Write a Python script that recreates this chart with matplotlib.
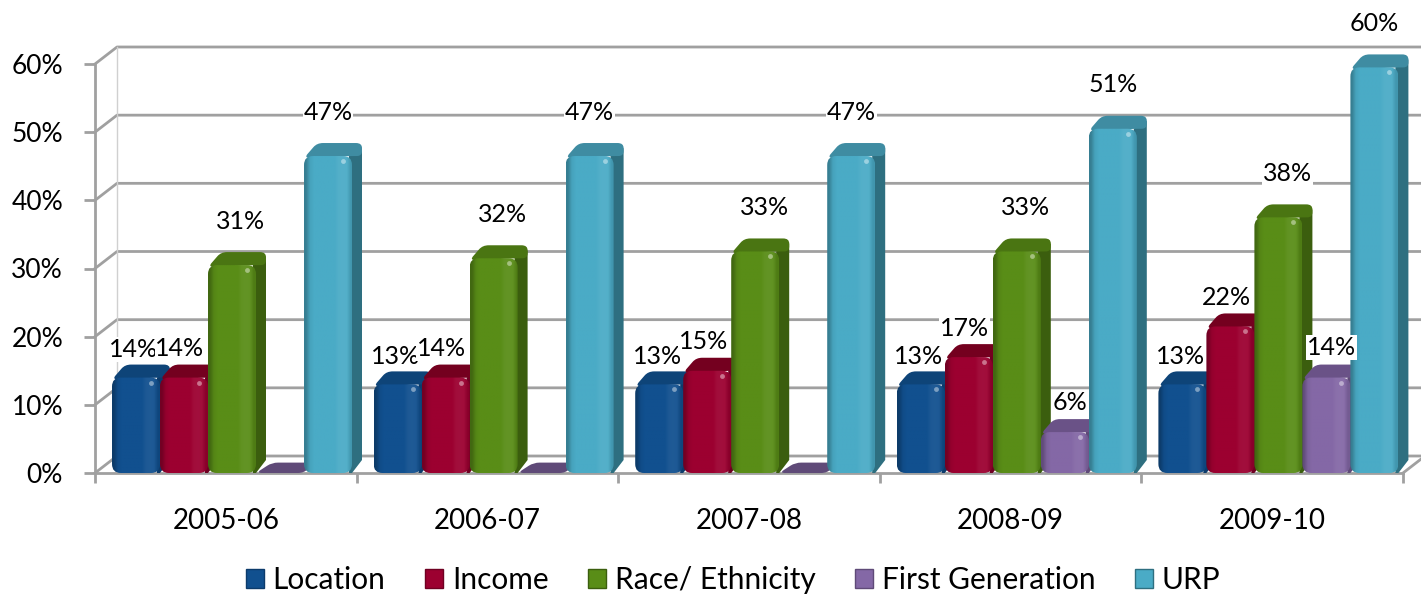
import matplotlib
matplotlib.use("Agg")
import matplotlib.pyplot as plt
import numpy as np
from matplotlib.patches import Patch, PathPatch, Polygon
from matplotlib.path import Path as MplPath
from matplotlib.colors import to_rgb

plt.rcParams["font.family"] = ["Lato", "DejaVu Sans"]

years = ["2005-06", "2006-07", "2007-08", "2008-09", "2009-10"]
series_names = ["Location", "Income", "Race/ Ethnicity", "First Generation", "URP"]
location = [14.0, 13.0, 13.0, 13.0, 13.0]
income = [14.0, 14.0, 15.0, 17.0, 21.5]
race = [30.5, 31.5, 32.5, 32.5, 37.5]
first_gen = [0.0, 0.0, 0.0, 6.0, 14.0]
urp = [46.5, 46.5, 46.5, 50.5, 59.5]
location_labels = ["14%", "13%", "13%", "13%", "13%"]
income_labels = ["14%", "14%", "15%", "17%", "22%"]
race_labels = ["31%", "32%", "33%", "33%", "38%"]
first_gen_labels = ["", "", "", "6%", "14%"]
urp_labels = ["47%", "47%", "47%", "51%", "60%"]
yticks = [0, 10, 20, 30, 40, 50, 60]

front_colors = ["#11508f", "#9c0030", "#598d17", "#8468a6", "#4aabc6"]
side_colors = ["#0c3b6b", "#6f0022", "#3b5e0e", "#5f4a78", "#2e6f80"]
top_colors = ["#0e4478", "#74001f", "#4a7512", "#6a5287", "#3f8ca2"]
# label shift from bar centre / bar top, in pixels
label_dx = [-2, -4, 9, 5, 0]
label_dy = [28, 29, 44, 30, 44]

W, H = 1421, 598
X0, X1 = 95, 1403
Y0, Y60 = 473, 64
PX = 5 / (X1 - X0)           # data units per pixel, x
PY = 60 / (Y0 - Y60)         # data units per pixel, y
BAR_W = 48 * PX
PAD = 17 * PX
DEPTH_X, DEPTH_Y = 10 * PX, 13 * PY
WALL_X, WALL_Y = 22 * PX, 17 * PY
GRID = "#a0a0a0"


def shade(color, f):
    c = np.array(to_rgb(color))
    return np.clip(c * f if f <= 1 else c + (1 - c) * (f - 1), 0, 1)


def rounded_path(pts, rx, ry):
    # closed outline through pts, with each corner cut by a small curve
    verts, codes = [], []
    n = len(pts)
    for k in range(n):
        px, py = pts[k]
        ax_, ay_ = pts[k - 1]
        bx, by = pts[(k + 1) % n]
        d1 = np.hypot((ax_ - px) / rx, (ay_ - py) / ry)
        d2 = np.hypot((bx - px) / rx, (by - py) / ry)
        t1, t2 = min(1 / d1, 0.5), min(1 / d2, 0.5)
        verts.append((px + (ax_ - px) * t1, py + (ay_ - py) * t1))
        codes.append(MplPath.MOVETO if k == 0 else MplPath.LINETO)
        verts += [(px, py), (px + (bx - px) * t2, py + (by - py) * t2)]
        codes += [MplPath.CURVE3, MplPath.CURVE3]
    verts.append(verts[0])
    codes.append(MplPath.CLOSEPOLY)
    return MplPath(verts, codes)


def draw_bar(ax, x, v, i):
    # side and top first, the front face sits over them
    r = x + BAR_W
    z = 3 + i * 0.1
    if v > 0:
        ax.add_patch(Polygon([(r - 3 * PX, 0), (r, 0), (r + DEPTH_X, DEPTH_Y),
                              (r + DEPTH_X, v + DEPTH_Y - 5 * PY), (r - 3 * PX, v)],
                             fc=side_colors[i], ec="none", zorder=z, clip_on=False))
    top = [(x, v), (x + DEPTH_X + 3 * PX, v + DEPTH_Y), (r + DEPTH_X, v + DEPTH_Y), (r + DEPTH_X, v), (r, v)]
    if v > 0:
        top = [(x, v - 2 * PY)] + top[1:]
    else:
        top = [(x, 0), (x + DEPTH_X + 6 * PX, DEPTH_Y * 0.8), (r + DEPTH_X, DEPTH_Y * 0.8), (r, 0)]
    ax.add_patch(PathPatch(rounded_path(top, 6 * PX, 5 * PY),
                           fc=top_colors[i] if v > 0 else side_colors[i], ec="none", zorder=z, clip_on=False))
    if v <= 0:
        return
    outline = rounded_path([(x, 0), (x, v), (r, v), (r, 0)], 9 * PX, 9 * PY)
    face = PathPatch(outline, fc="none", ec="none", zorder=z + 0.01, clip_on=False)
    ax.add_patch(face)
    stops = np.array([0.74, 0.95, 1.0, 1.0, 1.0, 1.0, 1.0, 1.0, 1.05, 1.06, 1.05, 0.88])
    grad = np.array([[shade(front_colors[i], f) for f in stops]])
    im = ax.imshow(grad, extent=(x, r, 0, v), aspect="auto", interpolation="bilinear", zorder=z + 0.02)
    im.set_clip_path(face)
    ax.plot([r - 9 * PX], [v - 5 * PY], marker="o", ms=3.5, color=shade(front_colors[i], 1.45),
            mec="none", zorder=z + 0.03, clip_on=False)


fig = plt.figure(figsize=(W / 100, H / 100), dpi=100)
ax = fig.add_axes([X0 / W, 1 - Y0 / H, (X1 - X0) / W, (Y0 - Y60) / H])
ax.patch.set_visible(False)

# back wall and floor
for y in yticks:
    ax.plot([0, WALL_X, 5 + WALL_X], [y, y + WALL_Y, y + WALL_Y], color=GRID, lw=2, zorder=1, clip_on=False)
ax.plot([WALL_X, WALL_X], [WALL_Y, 60 + WALL_Y], color="#d0d0d0", lw=1, zorder=1, clip_on=False)
ax.plot([5, 5 + WALL_X], [0, WALL_Y], color=GRID, lw=2, zorder=1, clip_on=False)

series = [location, income, race, first_gen, urp]
labels = [location_labels, income_labels, race_labels, first_gen_labels, urp_labels]
for g in range(len(years)):
    for i, vals in enumerate(series):
        x = g + PAD + i * BAR_W
        draw_bar(ax, x, vals[g], i)
for g in range(len(years)):
    for i, vals in enumerate(series):
        if not labels[i][g]:
            continue
        x = g + PAD + (i + 0.5) * BAR_W
        ax.text(x + label_dx[i] * PX, vals[g] + label_dy[i] * PY, labels[i][g], ha="center", va="center",
                fontsize=18, color="black", zorder=6,
                bbox=dict(fc="white", ec="none", pad=0.5))

ax.set_xlim(0, 5)
ax.set_ylim(0, 60)
for s in ["top", "right"]:
    ax.spines[s].set_visible(False)
for s in ["left", "bottom"]:
    ax.spines[s].set_color(GRID)
    ax.spines[s].set_linewidth(2)
ax.set_xticks(range(6))
ax.set_xticklabels([])
ax.set_xticks(np.arange(5) + 0.5, years, minor=True)
ax.tick_params(axis="x", which="major", length=7, width=2, color=GRID)
ax.tick_params(axis="x", which="minor", length=0, pad=25, labelsize=20)
ax.set_yticks(yticks, [f"{y}%" for y in yticks])
ax.tick_params(axis="y", length=8, width=2, color=GRID, labelsize=19, pad=15)

handles = [Patch(fc=c, ec=s) for c, s in zip(front_colors, side_colors)]
fig.legend(handles, series_names, loc="lower center", bbox_to_anchor=(733 / W, -0.038), ncol=5,
           frameon=False, fontsize=21.5, handlelength=0.6, handleheight=0.6, handletextpad=0.3, columnspacing=1.32)

fig.savefig("out.png", dpi=100)
